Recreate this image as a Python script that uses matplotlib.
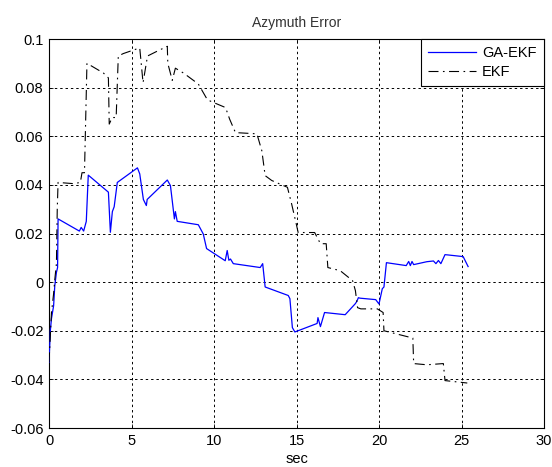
import matplotlib
matplotlib.use("Agg")
import matplotlib.pyplot as plt

plt.rcParams['font.family'] = ['Liberation Sans', 'DejaVu Sans']

# GA-EKF series (time in sec, azimuth error)
t_ga = [0.0, 0.08, 0.15, 0.28, 0.35, 0.45, 0.52, 0.55, 1.84, 1.95, 2.1, 2.26, 2.38,
        3.6, 3.72, 3.84, 3.95, 4.14, 5.36, 5.5, 5.72, 5.9, 5.95, 7.17, 7.36, 7.6,
        7.66, 7.77, 9.05, 9.35, 9.55, 10.68, 10.8, 10.9, 11.0, 11.17, 12.8, 12.95,
        13.1, 14.5, 14.6, 14.75, 14.9, 16.25, 16.3, 16.45, 16.7, 17.95, 18.56, 18.65,
        18.75, 18.85, 19.8, 20.0, 20.2, 20.3, 20.45, 21.65, 21.8, 21.9, 22.0, 22.1,
        22.9, 23.3, 23.45, 23.6, 23.75, 24.0, 24.15, 25.1, 25.4]
y_ga = [-0.033, -0.02, -0.015, -0.0097, -0.0015, 0.004, 0.006, 0.026, 0.021, 0.0225,
        0.021, 0.025, 0.044, 0.037, 0.0205, 0.029, 0.031, 0.041, 0.047, 0.0445, 0.034,
        0.0315, 0.034, 0.042, 0.0397, 0.026, 0.029, 0.025, 0.0236, 0.0198, 0.0138,
        0.0088, 0.013, 0.009, 0.0095, 0.0076, 0.006, 0.0076, -0.002, -0.0055, -0.0068,
        -0.0187, -0.0205, -0.017, -0.0146, -0.0183, -0.0125, -0.0134, -0.0089, -0.008,
        -0.0064, -0.0066, -0.0072, -0.009, -0.0027, -0.002, 0.008, 0.0068, 0.0085,
        0.0068, 0.0085, 0.0072, 0.0084, 0.0087, 0.0076, 0.0089, 0.0076, 0.0113,
        0.0112, 0.0105, 0.0064]

# EKF series
t_ekf = [0.0, 0.15, 0.28, 0.35, 0.45, 0.5, 0.55, 1.5, 1.9, 2.0, 2.15, 2.3, 3.3, 3.6,
         3.65, 3.83, 4.07, 4.2, 4.5, 5.35, 5.5, 5.7, 5.97, 6.56, 7.17, 7.2, 7.47, 7.66,
         8.15, 9.05, 9.6, 10.0, 10.7, 10.95, 11.3, 12.6, 12.9, 13.1, 13.5, 14.45, 14.7,
         15.0, 15.1, 16.1, 16.45, 16.8, 16.9, 17.65, 18.4, 18.57, 18.7, 18.9, 19.9,
         20.25, 20.3, 22.05, 22.1, 22.9, 23.9, 24.0, 25.35]
y_ekf = [-0.033, -0.0125, -0.0047, 0.001, 0.0076, 0.03, 0.041, 0.0405, 0.041, 0.045,
         0.045, 0.09, 0.086, 0.084, 0.065, 0.0677, 0.0677, 0.093, 0.094, 0.096, 0.0963,
         0.082, 0.093, 0.095, 0.097, 0.090, 0.083, 0.088, 0.086, 0.0815, 0.075, 0.0738,
         0.0718, 0.067, 0.0615, 0.061, 0.054, 0.0438, 0.0418, 0.039, 0.0323, 0.0235,
         0.0204, 0.0204, 0.0158, 0.0158, 0.006, 0.0047, 0.0006, -0.0035, -0.0105,
         -0.011, -0.011, -0.0125, -0.020, -0.023, -0.0335, -0.034, -0.0335, -0.0405,
         -0.0415]

x_ticks = [0, 5, 10, 15, 20, 25, 30]
y_ticks = [-0.06, -0.04, -0.02, 0, 0.02, 0.04, 0.06, 0.08, 0.1]
y_ticklabels = ['-0.06', '-0.04', '-0.02', '0', '0.02', '0.04', '0.06', '0.08', '0.1']

fig = plt.figure(figsize=(5.52, 4.67), dpi=100)
ax = fig.add_axes([49/552, 1 - 428/467, (544 - 49)/552, (428 - 39)/467])

ax.plot(t_ga, y_ga, color='#0000ff', lw=0.9, label='GA-EKF', zorder=3)
ax.plot(t_ekf, y_ekf, color='black', lw=0.8, linestyle=(0, (9, 4, 1.5, 4)),
        label='EKF', zorder=3)

ax.set_xlim(0, 30)
ax.set_ylim(-0.06, 0.1)
ax.set_xticks(x_ticks)
ax.set_yticks(y_ticks)
ax.set_yticklabels(y_ticklabels)
ax.tick_params(direction='in', length=3, width=0.6, top=True, right=True,
               labelsize=10.5, pad=4)
ax.grid(True, color='black', linestyle=(0, (2.5, 3)), linewidth=0.7)
for s in ax.spines.values():
    s.set_linewidth(0.8)

ax.set_title('Azymuth Error', fontsize=10, pad=9, color='#333333')
ax.set_xlabel('sec', fontsize=10.5, labelpad=3)

leg = ax.legend(loc='upper right', borderaxespad=0, fancybox=False, framealpha=1,
                edgecolor='black', fontsize=10.5, handlelength=3.3, handletextpad=0.4,
                borderpad=0.5, labelspacing=0.3)
leg.get_frame().set_linewidth(0.8)

fig.savefig('out.png', dpi=100)
